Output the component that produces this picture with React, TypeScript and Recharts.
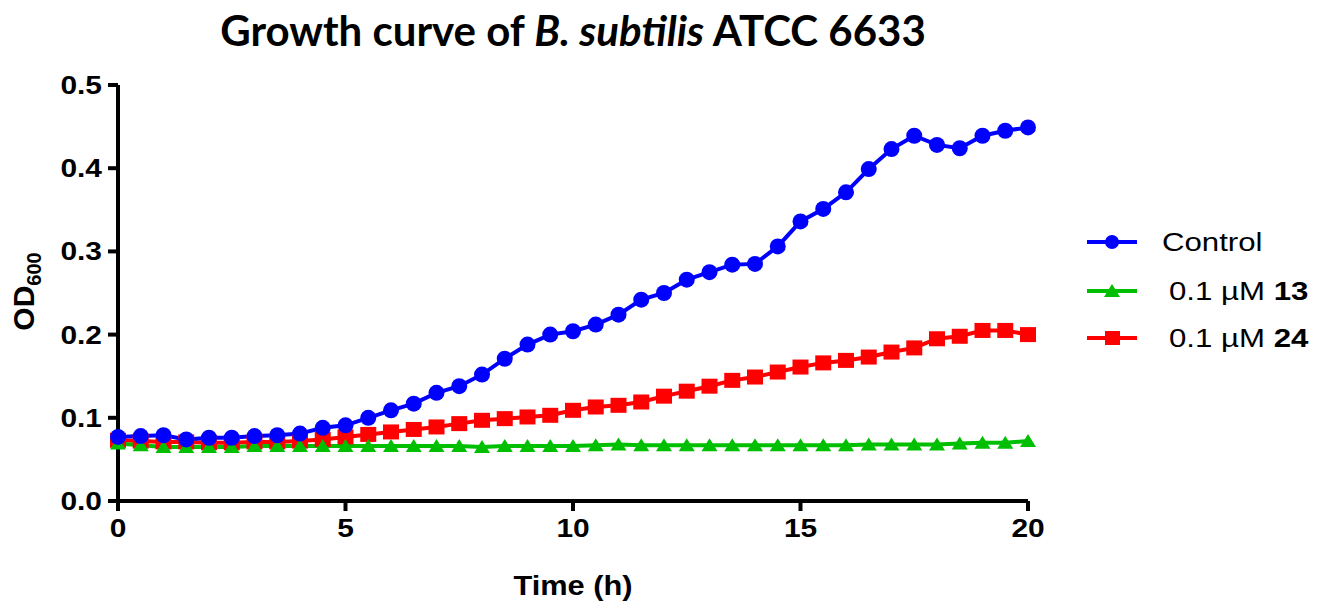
import React from 'react';
import { LineChart, Line, XAxis, YAxis } from 'recharts';

const times = [0, 0.5, 1, 1.5, 2, 2.5, 3, 3.5, 4, 4.5, 5, 5.5, 6, 6.5, 7, 7.5, 8, 8.5, 9, 9.5, 10, 10.5, 11, 11.5, 12, 12.5, 13, 13.5, 14, 14.5, 15, 15.5, 16, 16.5, 17, 17.5, 18, 18.5, 19, 19.5, 20];
const control = [0.077, 0.078, 0.079, 0.074, 0.076, 0.076, 0.078, 0.079, 0.081, 0.088, 0.091, 0.100, 0.109, 0.117, 0.130, 0.138, 0.152, 0.171, 0.188, 0.200, 0.204, 0.212, 0.224, 0.242, 0.250, 0.266, 0.275, 0.284, 0.285, 0.306, 0.336, 0.351, 0.371, 0.399, 0.423, 0.439, 0.428, 0.424, 0.439, 0.445, 0.449];
const comp13 = [0.069, 0.067, 0.065, 0.065, 0.065, 0.065, 0.066, 0.066, 0.066, 0.066, 0.066, 0.066, 0.066, 0.066, 0.066, 0.066, 0.065, 0.066, 0.066, 0.066, 0.066, 0.067, 0.068, 0.067, 0.067, 0.067, 0.067, 0.067, 0.067, 0.067, 0.067, 0.067, 0.067, 0.068, 0.068, 0.068, 0.068, 0.069, 0.070, 0.070, 0.072];
const comp24 = [0.073, 0.072, 0.071, 0.071, 0.070, 0.070, 0.071, 0.071, 0.072, 0.074, 0.077, 0.080, 0.083, 0.086, 0.089, 0.093, 0.097, 0.099, 0.101, 0.103, 0.109, 0.113, 0.115, 0.119, 0.126, 0.132, 0.138, 0.145, 0.149, 0.155, 0.161, 0.166, 0.169, 0.173, 0.179, 0.184, 0.195, 0.198, 0.205, 0.205, 0.200];
const xTicks = [0, 5, 10, 15, 20];
const yTicks = [0, 0.1, 0.2, 0.3, 0.4, 0.5];

const BLUE = '#0000ff';
const GREEN = '#00bf00';
const RED = '#ff0000';

const data = times.map((t, i) => ({ t, control: control[i], c13: comp13[i], c24: comp24[i] }));

const Circle = (p: any) => <circle key={p.key} cx={p.cx} cy={p.cy} r={8} fill={BLUE} />;
const Square = (p: any) => <rect key={p.key} x={p.cx - 8} y={p.cy - 7.5} width={16} height={15} fill={RED} />;
const Tri = (p: any) => (
  <polygon key={p.key} points={`${p.cx},${p.cy - 7} ${p.cx - 8},${p.cy + 6} ${p.cx + 8},${p.cy + 6}`} fill={GREEN} />
);

const XTick = (p: any) => (
  <text x={0} y={0} transform={`translate(${p.x},${p.y + 24}) scale(1.15,1)`} textAnchor="middle"
    fontFamily="Liberation Sans, Arial, sans-serif" fontWeight="bold" fontSize={26} fill="#000">
    {p.payload.value}
  </text>
);
const YTick = (p: any) => (
  <text x={0} y={0} transform={`translate(${p.x - 4},${p.y + 9}) scale(1.15,1)`} textAnchor="end"
    fontFamily="Liberation Sans, Arial, sans-serif" fontWeight="bold" fontSize={26} fill="#000">
    {Number(p.payload.value).toFixed(1)}
  </text>
);

const legendItems = [
  { color: BLUE, shape: 'circle', pre: 'Control', bold: '', y: 242, x: 1162 },
  { color: GREEN, shape: 'tri', pre: '0.1 µM ', bold: '13', y: 291, x: 1169 },
  { color: RED, shape: 'square', pre: '0.1 µM ', bold: '24', y: 338, x: 1169 },
];

export default function App() {
  return (
    <div style={{ position: 'absolute', left: 0, top: 0, width: 1337, height: 614, background: '#fff', fontFamily: 'Liberation Sans, Arial, sans-serif' }}>
      <LineChart width={1337} height={614} data={data} margin={{ top: 85, right: 309, bottom: 73, left: 0 }}>
        <XAxis dataKey="t" type="number" domain={[0, 20]} ticks={xTicks} height={40}
          axisLine={{ stroke: '#000', strokeWidth: 4 }} tickLine={{ stroke: '#000', strokeWidth: 4 }} tickSize={10}
          tick={<XTick />} interval={0} />
        <YAxis type="number" domain={[0, 0.5]} ticks={yTicks} width={118}
          axisLine={{ stroke: '#000', strokeWidth: 4 }} tickLine={{ stroke: '#000', strokeWidth: 4 }} tickSize={10}
          tick={<YTick />} interval={0} />
        <Line dataKey="c24" stroke={RED} strokeWidth={4} dot={<Square />} isAnimationActive={false} />
        <Line dataKey="c13" stroke={GREEN} strokeWidth={4} dot={<Tri />} isAnimationActive={false} />
        <Line dataKey="control" stroke={BLUE} strokeWidth={4} dot={<Circle />} isAnimationActive={false} />
      </LineChart>

      <div style={{ position: 'absolute', left: 0, width: 1146, top: 5, textAlign: 'center', fontFamily: 'Lato, sans-serif', fontWeight: 'bold', fontSize: 42, color: '#000', whiteSpace: 'nowrap' }}>
        Growth curve of <i>B. subtilis</i> ATCC 6633
      </div>

      <div style={{ position: 'absolute', left: 473, width: 200, top: 570, textAlign: 'center', fontWeight: 'bold', fontSize: 28, color: '#000', transform: 'scaleX(1.1)' }}>
        Time (h)
      </div>

      <div style={{ position: 'absolute', left: 26, top: 292, width: 0, height: 0 }}>
        <div style={{ position: 'absolute', left: -70, top: -20, width: 140, textAlign: 'center', transform: 'rotate(-90deg)', fontWeight: 'bold', fontSize: 30, color: '#000', whiteSpace: 'nowrap' }}>
          OD<sub style={{ fontSize: 20 }}>600</sub>
        </div>
      </div>

      <svg style={{ position: 'absolute', left: 0, top: 0 }} width={1337} height={614}>
        {legendItems.map((it) => (
          <g key={it.pre + it.bold}>
            <line x1={1087} x2={1137} y1={it.y} y2={it.y} stroke={it.color} strokeWidth={4} />
            {it.shape === 'circle' && <circle cx={1112} cy={it.y} r={7} fill={it.color} />}
            {it.shape === 'square' && <rect x={1105} y={it.y - 7} width={15} height={14} fill={it.color} />}
            {it.shape === 'tri' && <polygon points={`1112,${it.y - 7} 1104,${it.y + 6} 1120,${it.y + 6}`} fill={it.color} />}
            <text x={0} y={0} transform={`translate(${it.x},${it.y + 9}) scale(1.2,1)`} fontSize={26} fill="#000" fontFamily="Liberation Sans, Arial, sans-serif">
              {it.pre}
              {it.bold && <tspan fontWeight="bold">{it.bold}</tspan>}
            </text>
          </g>
        ))}
      </svg>
    </div>
  );
}
